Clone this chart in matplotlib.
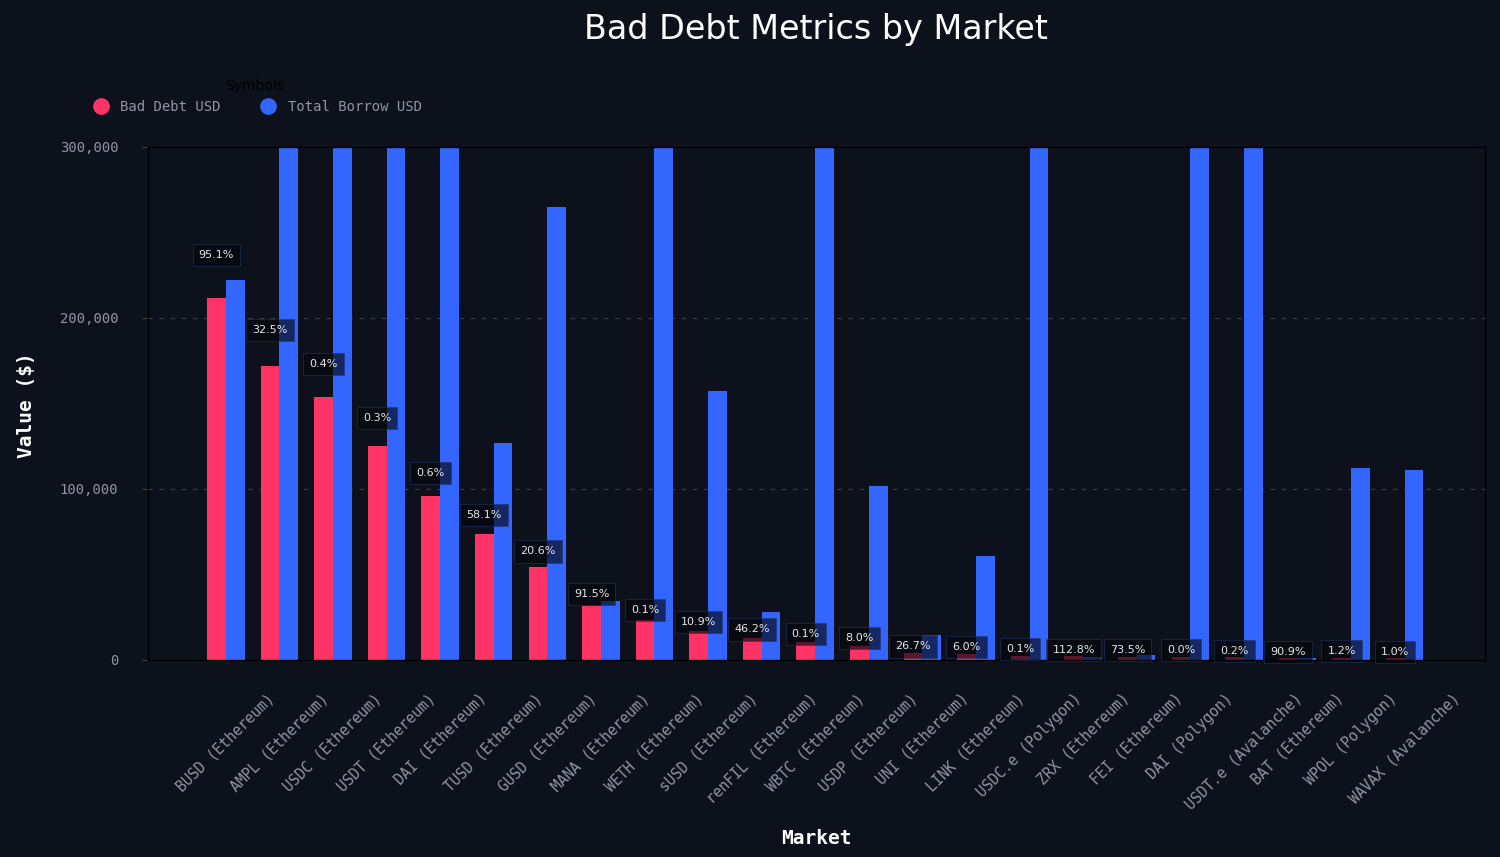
import matplotlib.pyplot as plt
import numpy as np
from matplotlib.lines import Line2D
from matplotlib.ticker import FuncFormatter

# ==== Data ====
markets = [
    "BUSD (Ethereum)", "AMPL (Ethereum)", "USDC (Ethereum)", "USDT (Ethereum)",
    "DAI (Ethereum)", "TUSD (Ethereum)", "GUSD (Ethereum)", "MANA (Ethereum)",
    "WETH (Ethereum)", "sUSD (Ethereum)", "renFIL (Ethereum)", "WBTC (Ethereum)",
    "USDP (Ethereum)", "UNI (Ethereum)", "LINK (Ethereum)", "USDC.e (Polygon)",
    "ZRX (Ethereum)", "FEI (Ethereum)", "DAI (Polygon)", "USDT.e (Avalanche)",
    "BAT (Ethereum)", "WPOL (Polygon)", "WAVAX (Avalanche)",
]
bad_debt = [
    211800, 172000, 153900, 125200, 95900, 73700, 54400, 31600,
    23400, 17000, 12900, 10500, 8200, 3900, 3650, 2600,
    2050, 2000, 1900, 1500, 1000, 1350, 1110,
]
total_borrow = [
    222300, 529000, 38500000, 41700000, 16000000, 127000, 265000, 34500,
    23400000, 157400, 27900, 10500000, 101800, 14600, 60800, 2600000,
    1820, 2720, 19000000, 750000, 1100, 112300, 111200,
]
ratio_labels = [
    "95.1%", "32.5%", "0.4%", "0.3%", "0.6%", "58.1%", "20.6%", "91.5%",
    "0.1%", "10.9%", "46.2%", "0.1%", "8.0%", "26.7%", "6.0%", "0.1%",
    "112.8%", "73.5%", "0.0%", "0.2%", "90.9%", "1.2%", "1.0%",
]
y_ticks = [0, 100000, 200000, 300000]

# ==== Style ====
BG = "#0d111c"
RED = "#ff3366"
BLUE = "#3366ff"
GREY = "#8e95a5"
MONO = "DejaVu Sans Mono"

fig = plt.figure(figsize=(15, 8.57), dpi=100, facecolor=BG)
ax = fig.add_axes([0.0987, 0.2299, 0.8913, 0.5986], facecolor=BG)

x = np.arange(len(markets))
w = 0.35
ax.bar(x - w / 2, bad_debt, width=w, color=RED, zorder=2)
ax.bar(x + w / 2, total_borrow, width=w, color=BLUE, zorder=2)

# ratio labels above the bad debt bars
for xi, v, lab in zip(x, bad_debt, ratio_labels):
    ax.annotate(lab, (xi - w / 2, v * 1.1), xytext=(0, 4.5), textcoords="offset points",
                ha="center", va="center", color="#e6e6e6", fontsize=8, zorder=3,
                bbox=dict(boxstyle="square,pad=0.55", facecolor="#05070c", alpha=0.65,
                          edgecolor="#22346a", linewidth=0.6))

ax.set_ylim(0, 300000)
ax.set_xlim(-1.45, 23.5)
ax.set_yticks(y_ticks)
ax.yaxis.set_major_formatter(FuncFormatter(lambda v, p: f"{int(v):,}"))
ax.set_xticks(x)
ax.set_xticklabels(markets, rotation=45, ha="center", va="top")

ax.grid(axis="y", color="#3a404c", linestyle=(0, (4, 6)), linewidth=0.8, zorder=0)
for s in ax.spines.values():
    s.set_color("#000000")
    s.set_linewidth(1.0)

ax.tick_params(axis="y", colors="#3a404c", labelcolor=GREY, length=4, pad=17.5)
ax.tick_params(axis="x", length=0, labelcolor=GREY, pad=22)
for t in ax.get_yticklabels():
    t.set_fontfamily(MONO)
    t.set_fontsize(10)
for t in ax.get_xticklabels():
    t.set_fontfamily(MONO)
    t.set_fontsize(10.5)

ax.set_xlabel("Market", color="white", fontsize=14, fontfamily=MONO, fontweight="bold")
ax.set_ylabel("Value ($)", color="white", fontsize=14, fontfamily=MONO, fontweight="bold")
ax.xaxis.set_label_coords(0.5, -0.33)
ax.yaxis.set_label_coords(-0.084, 0.497)

fig.text(0.544, 0.965, "Bad Debt Metrics by Market", color="white", fontsize=24,
         fontfamily="DejaVu Sans", ha="center", va="center")

handles = [
    Line2D([], [], marker="o", linestyle="", markersize=11, color=RED),
    Line2D([], [], marker="o", linestyle="", markersize=11, color=BLUE),
]
leg = fig.legend(handles, ["Bad Debt USD", "Total Borrow USD"], title="Symbols",
                 ncol=2, loc="center left", bbox_to_anchor=(0.0497, 0.887),
                 frameon=False, handletextpad=0.4, columnspacing=2.4,
                 prop={"family": MONO, "size": 10})
for t in leg.get_texts():
    t.set_color(GREY)
leg.get_title().set_color("#000000")
leg.get_title().set_fontsize(10)

fig.savefig("out.png", dpi=100, facecolor=BG)
